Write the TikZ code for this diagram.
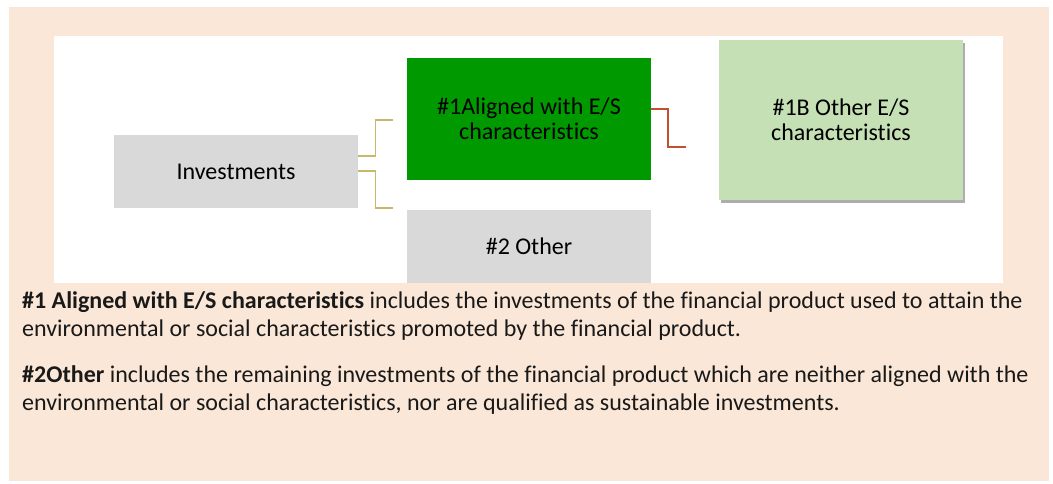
\documentclass[tikz,border=0pt]{standalone}
\usepackage{fontspec}
\setmainfont{Carlito}[Ligatures=CommonOff]
\usetikzlibrary{shadows}
\definecolor{peach}{HTML}{FAE7D7}
\definecolor{boxgray}{HTML}{D9D9D9}
\definecolor{boxgreen}{HTML}{009900}
\definecolor{lightgreen}{HTML}{C5E0B4}
\definecolor{olivel}{HTML}{C8B86A}
\definecolor{redl}{HTML}{C0502E}
\tikzset{
  box/.style={draw=none, inner sep=0pt, align=center, font=\fontsize{24}{25}\selectfont, text=black},
  bodyline/.style={anchor=base west, inner sep=0pt, font=\fontsize{24}{28}\selectfont, text=black!90},
  olivecon/.style={draw=olivel, line width=1.2pt},
  redcon/.style={draw=redl, line width=2pt},
}
\begin{document}
\begin{tikzpicture}[x=1pt,y=-1pt]
\useasboundingbox (0,0) rectangle (1053,483);
\fill[white] (0,0) rectangle (1053,483);
\fill[peach] (9,7) rectangle (1049,481);
\fill[white] (54,36) rectangle (1003,283);
% boxes
\node[box, fill=boxgray, minimum width=244pt, minimum height=73pt] (inv) at (236,171.5) {Investments};
\node[box, fill=boxgreen, minimum width=244pt, minimum height=122pt] (al) at (529,119) {\#1Aligned with E/S\\characteristics};
\node[box, fill=boxgray, minimum width=244pt, minimum height=73pt] (oth) at (529,246.5) {\#2 Other};
\node[box, fill=lightgreen, minimum width=244pt, minimum height=160pt,
  drop shadow={shadow xshift=2pt, shadow yshift=-3pt, fill=black!40, opacity=0.8}] (ob) at (841,120) {\#1B Other E/S\\characteristics};
% connectors
\coordinate (c1) at (393,120);
\coordinate (c2) at (393,208);
\coordinate (c3) at (686,147);
\draw[olivecon] ([yshift=15.5pt]inv.east) -- ++(17,0) |- (c1);
\draw[olivecon] ([yshift=0.5pt]inv.east) -- ++(17,0) |- (c2);
\draw[redcon] ([yshift=10pt]al.east) -- ++(17,0) |- (c3);
% body text
\node[bodyline] (t1) at (22,308) {\textbf{\#1 Aligned with E/S characteristics} includes the investments of the financial product used to attain the};
\node[bodyline] (t2) at (22,336) {environmental or social characteristics promoted by the financial product.};
\node[bodyline] (t3) at (22,382) {\textbf{\#2Other} includes the remaining investments of the financial product which are neither aligned with the};
\node[bodyline] (t4) at (22,410) {environmental or social characteristics, nor are qualified as sustainable investments.};
\end{tikzpicture}
\end{document}
